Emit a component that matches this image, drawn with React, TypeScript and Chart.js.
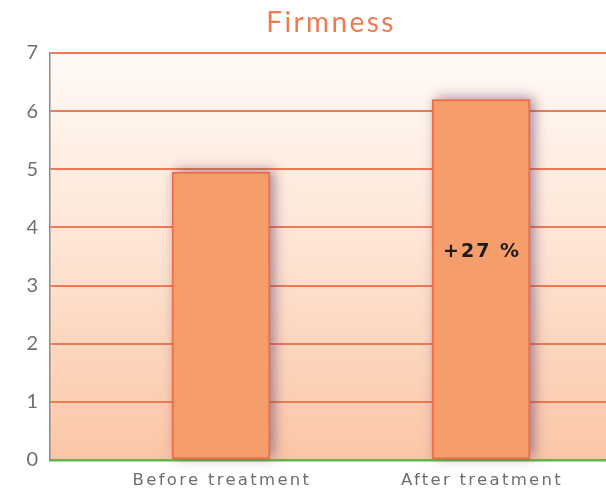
import React, { useEffect, useRef } from "react";
import { Chart, registerables } from "chart.js";

Chart.register(...registerables);

// Firmness score before and after treatment
const categories = ["Before treatment", "After treatment"];
const firmness = [4.95, 6.2];
const changeLabels = ["", "+27 %"];
const changeLabelLevel = [0, 3.58];
const yTicks = [0, 1, 2, 3, 4, 5, 6, 7];
const chartTitle = "Firmness";

const barFill = "#F59E6C";
const barEdge = "#EF6E45";

const backgroundPlugin = {
  id: "peachBackground",
  beforeDraw(chart: any) {
    const { ctx, chartArea } = chart;
    if (!chartArea) return;
    const g = ctx.createLinearGradient(0, chartArea.top, 0, chartArea.bottom);
    g.addColorStop(0, "#FFFAF6");
    g.addColorStop(0.45, "#FEE6D6");
    g.addColorStop(1, "#FBC6A6");
    ctx.save();
    ctx.fillStyle = g;
    ctx.fillRect(chartArea.left, chartArea.top, chartArea.right - chartArea.left, chartArea.bottom - chartArea.top);
    ctx.restore();
  },
};

// soft purple-grey glow behind each bar
const shadowPlugin = {
  id: "barShadow",
  beforeDatasetsDraw(chart: any) {
    const ctx = chart.ctx;
    const meta = chart.getDatasetMeta(0);
    ctx.save();
    ctx.shadowColor = "rgba(105, 65, 110, 0.6)";
    ctx.shadowBlur = 12;
    ctx.shadowOffsetX = 4;
    ctx.shadowOffsetY = -2;
    ctx.fillStyle = barFill;
    meta.data.forEach((bar: any) => {
      const half = bar.width / 2;
      ctx.fillRect(bar.x - half, bar.y, bar.width, bar.base - bar.y);
    });
    ctx.restore();
  },
};

const textPlugin = {
  id: "chartTexts",
  afterDraw(chart: any) {
    const { ctx, chartArea, scales } = chart;
    const xs = scales.x;
    const ys = scales.y;
    ctx.save();
    // title
    ctx.fillStyle = "#EE7A52";
    ctx.font = "28px Lato";
    (ctx as any).letterSpacing = "2.4px";
    ctx.textAlign = "center";
    ctx.textBaseline = "middle";
    ctx.fillText(chartTitle, (chartArea.left + chartArea.right) / 2 + 3, 23);
    // category labels
    ctx.fillStyle = "#6E6E6E";
    ctx.font = "16.5px 'DejaVu Sans'";
    (ctx as any).letterSpacing = "2.3px";
    categories.forEach((c, i) => {
      ctx.fillText(c, xs.getPixelForValue(i) + 1, 481);
    });
    // change labels inside bars
    ctx.fillStyle = "#1E1A18";
    ctx.font = "bold 19px 'DejaVu Sans'";
    (ctx as any).letterSpacing = "2px";
    changeLabels.forEach((t, i) => {
      if (!t) return;
      ctx.fillText(t, xs.getPixelForValue(i) + 1, ys.getPixelForValue(changeLabelLevel[i]));
    });
    ctx.restore();
  },
};

export default function App() {
  const ref = useRef<HTMLCanvasElement>(null);

  useEffect(() => {
    if (!ref.current) return;
    const chart = new Chart(ref.current, {
      type: "bar",
      data: {
        datasets: [
          {
            data: categories.map((_, i) => ({ x: i, y: firmness[i] })),
            backgroundColor: barFill,
            borderColor: barEdge,
            borderWidth: 2,
            borderSkipped: false,
            barThickness: 98,
          },
        ],
      },
      options: {
        responsive: false,
        animation: false,
        layout: { padding: { top: 53, right: 0, bottom: 0, left: 0 } },
        plugins: {
          legend: { display: false },
          tooltip: { enabled: false },
          title: { display: false },
        },
        scales: {
          x: {
            type: "linear",
            offset: false,
            min: -0.6577,
            max: 1.4808,
            ticks: { display: false },
            afterBuildTicks: (s: any) => {
              s.ticks = categories.map((_, i) => ({ value: i }));
            },
            afterFit: (s: any) => {
              s.height = 30;
            },
            grid: { display: false, drawTicks: false, offset: false },
            border: { display: true, color: "#6DB04A", width: 2.5 },
          },
          y: {
            min: 0,
            max: 7,
            afterBuildTicks: (s: any) => {
              s.ticks = yTicks.map((v) => ({ value: v }));
            },
            afterFit: (s: any) => {
              s.width = 50;
            },
            ticks: {
              color: "#707070",
              font: { family: "Lato", size: 20 },
              padding: 12,
            },
            grid: {
              color: (c: any) => (c.tick && c.tick.value === 0 ? "rgba(0,0,0,0)" : "#F07A52"),
              lineWidth: 2,
              drawTicks: false,
            },
            border: { display: true, color: "#8A8A8A", width: 1.5 },
          },
        },
      },
      plugins: [backgroundPlugin, shadowPlugin, textPlugin],
    });
    return () => chart.destroy();
  }, []);

  return (
    <div style={{ position: "absolute", left: 0, top: 0, width: 606, height: 490, background: "#FFFFFF" }}>
      <canvas ref={ref} width={606} height={490} />
    </div>
  );
}
